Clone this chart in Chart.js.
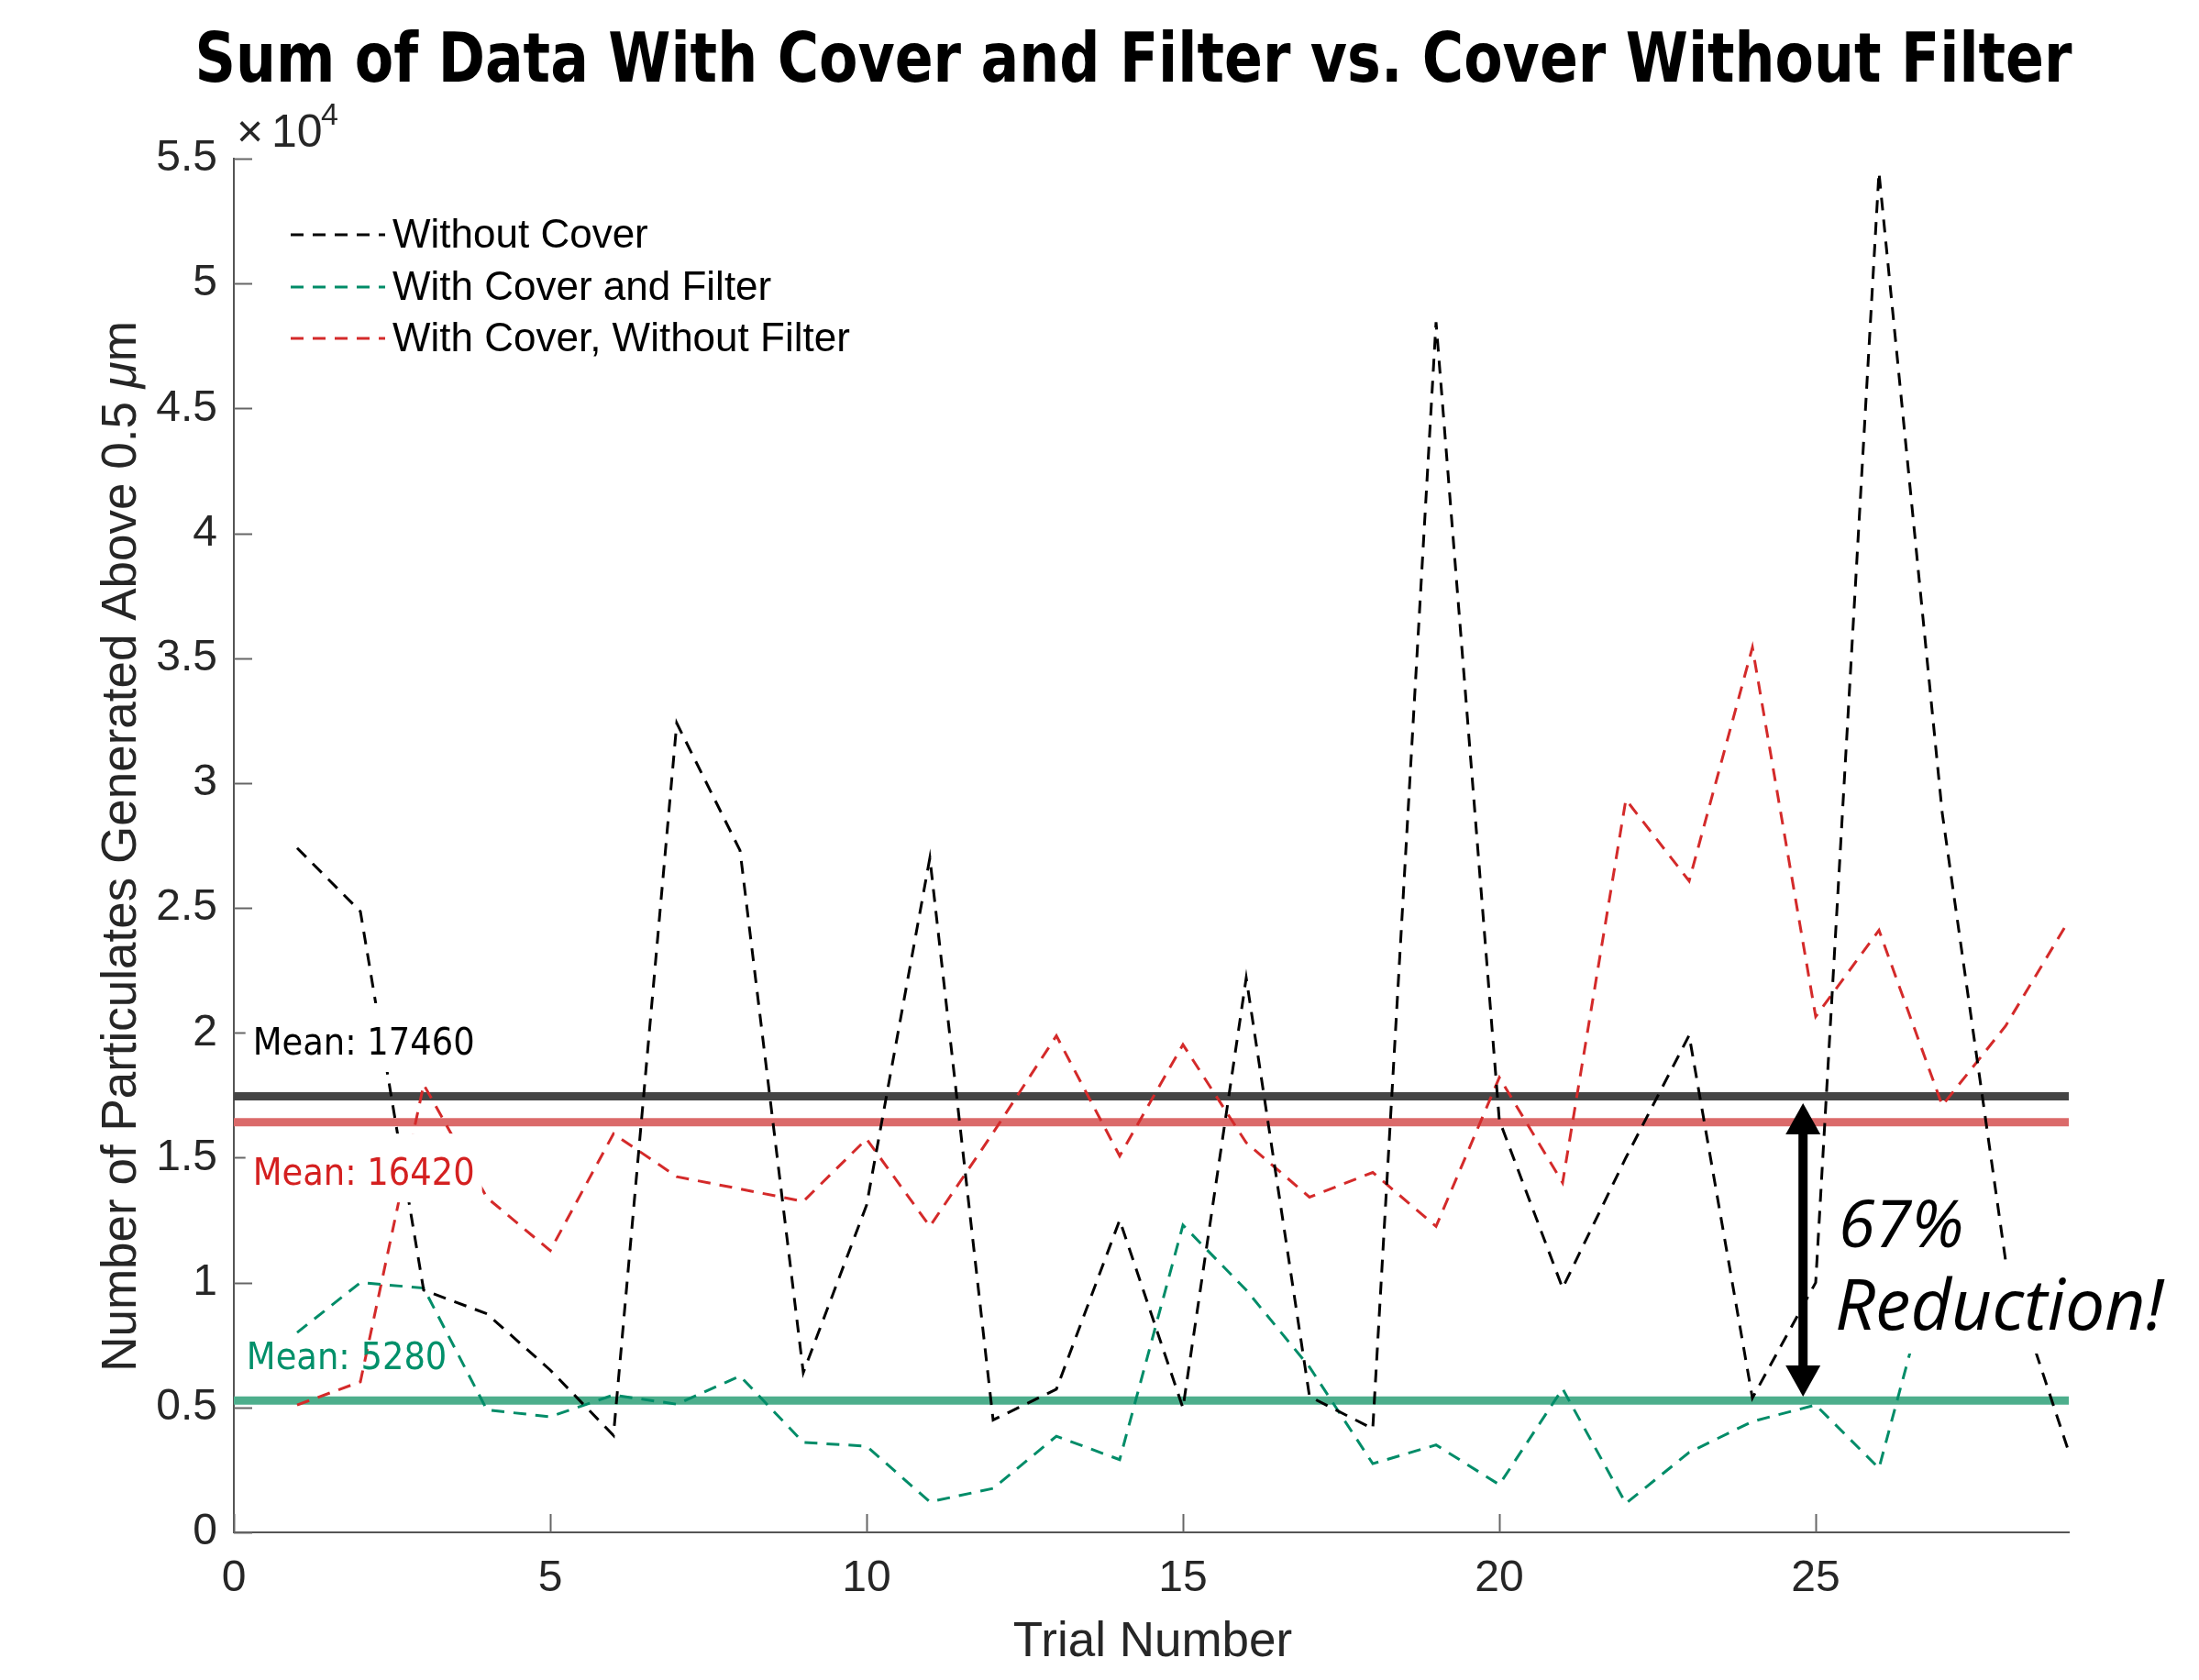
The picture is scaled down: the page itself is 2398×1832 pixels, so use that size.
<!DOCTYPE html>
<html>
<head>
<meta charset="utf-8">
<title>Sum of Data With Cover and Filter vs. Cover Without Filter</title>
<script src="https://cdn.jsdelivr.net/npm/chart.js@4.4.1/dist/chart.umd.min.js"></script>
<style>
    html, body { margin: 0; padding: 0; background: #fff; }
    #chart { display: block; }
</style>
</head>
<body>
<canvas id="chart" width="2398" height="1832"></canvas>
<script>
const trials = [1, 2, 3, 4, 5, 6, 7, 8, 9, 10, 11, 12, 13, 14, 15, 16, 17, 18, 19, 20, 21, 22, 23, 24, 25, 26, 27, 28, 29];

const withoutCover = [27400, 24860, 9700, 8750, 6500, 3880, 32400, 27300, 6400, 13100, 27000, 4500, 5730, 12500, 4980, 22200, 5440, 4150, 48450, 16500, 9780, 15000, 19900, 5380, 10000, 54450, 28800, 10900, 3220];
const coverAndFilter = [8000, 10000, 9780, 4900, 4630, 5500, 5130, 6260, 3600, 3450, 1220, 1760, 3850, 2910, 12300, 9700, 6620, 2750, 3500, 1910, 5750, 1160, 3200, 4440, 5100, 2570, 12000];
const coverNoFilter = [5100, 6030, 17930, 13400, 11280, 15960, 14240, 13750, 13250, 15750, 12250, 16000, 19880, 15070, 19530, 15600, 13420, 14410, 12250, 18210, 14000, 29340, 26080, 35430, 20650, 24110, 17090, 20270, 24490];

const seriesNames = ['Without Cover', 'With Cover and Filter', 'With Cover, Without Filter'];
const seriesColors = ['#000000', '#008c68', '#d42a2a'];

const means = [17460, 16420, 5280];
const meanColors = ['#454545', '#db6a6a', '#4dae8c'];
const meanTextColors = ['#000000', '#d42020', '#00906a'];
const meanLabelX = [0.3, 0.3, 0.2];
const meanLabelY = [19130, 13910, 6530];

const xTicks = [0, 5, 10, 15, 20, 25];
const yTicks = [0, 5000, 10000, 15000, 20000, 25000, 30000, 35000, 40000, 45000, 50000, 55000];

// arrow between red and green mean
const arrowX = 24.8;
const arrowTop = 17180;
const arrowBottom = 5430;

const AXIS_FONT = '"Liberation Sans", Arial, sans-serif';

function points(values) {
    return values.map((v, i) => ({ x: trials[i], y: v }));
}

function meanLine(value) {
    return [{ x: 0, y: value }, { x: 29, y: value }];
}

const datasets = [
    { label: seriesNames[0], data: points(withoutCover), borderColor: seriesColors[0] },
    { label: seriesNames[1], data: points(coverAndFilter), borderColor: seriesColors[1] },
    { label: seriesNames[2], data: points(coverNoFilter), borderColor: seriesColors[2] }
].map(d => Object.assign(d, {
    borderWidth: 3,
    borderDash: [14, 10],
    pointRadius: 0,
    tension: 0,
    fill: false,
    order: 0
}));

means.forEach((m, i) => {
    datasets.push({
        label: 'mean' + i,
        data: meanLine(m),
        borderColor: meanColors[i],
        borderWidth: 9,
        pointRadius: 0,
        fill: false,
        order: 10
    });
});

const decorations = {
    id: 'decorations',
    afterDatasetsDraw(chart) {
        const ctx = chart.ctx;
        const xs = chart.scales.x;
        const ys = chart.scales.y;
        const area = chart.chartArea;

        ctx.save();

        // tick marks pointing inward
        ctx.strokeStyle = '#666';
        ctx.lineWidth = 2;
        yTicks.forEach(v => {
            const py = Math.round(ys.getPixelForValue(v)) + 0.5;
            ctx.beginPath();
            ctx.moveTo(area.left, py);
            ctx.lineTo(area.left + 20, py);
            ctx.stroke();
        });
        xTicks.forEach(v => {
            const px = Math.round(xs.getPixelForValue(v)) + 0.5;
            ctx.beginPath();
            ctx.moveTo(px, area.bottom);
            ctx.lineTo(px, area.bottom - 20);
            ctx.stroke();
        });

        // mean labels
        ctx.font = '41px "DejaVu Sans Condensed", "DejaVu Sans", sans-serif';
        ctx.textBaseline = 'alphabetic';
        ctx.textAlign = 'left';
        means.forEach((m, i) => {
            const text = 'Mean: ' + m;
            const tx = xs.getPixelForValue(meanLabelX[i]);
            const ty = ys.getPixelForValue(meanLabelY[i]);
            if (i < 2) {
                const w = ctx.measureText(text).width;
                ctx.fillStyle = '#fff';
                ctx.fillRect(tx - 8, ty - 56, w + 16, 75);
            }
            ctx.fillStyle = meanTextColors[i];
            ctx.fillText(text, tx, ty);
        });

        // reduction text with white boxes
        ctx.fillStyle = '#fff';
        ctx.fillRect(1995, 1290, 140, 90);
        ctx.fillRect(1983, 1380, 415, 96);
        ctx.fillStyle = '#000';
        ctx.font = 'italic 72px "Open Sans", sans-serif';
        ctx.fillText('67%', 2005, 1360);
        ctx.font = 'italic 77px "Open Sans", sans-serif';
        ctx.fillText('Reduction!', 2001, 1450);

        // double arrow
        const ax = xs.getPixelForValue(arrowX);
        const yt = ys.getPixelForValue(arrowTop);
        const yb = ys.getPixelForValue(arrowBottom);
        const head = 34, half = 19;
        ctx.strokeStyle = '#000';
        ctx.lineWidth = 10;
        ctx.beginPath();
        ctx.moveTo(ax, yt + head - 2);
        ctx.lineTo(ax, yb - head + 2);
        ctx.stroke();
        ctx.fillStyle = '#000';
        ctx.beginPath();
        ctx.moveTo(ax, yt);
        ctx.lineTo(ax - half, yt + head);
        ctx.lineTo(ax + half, yt + head);
        ctx.closePath();
        ctx.fill();
        ctx.beginPath();
        ctx.moveTo(ax, yb);
        ctx.lineTo(ax - half, yb - head);
        ctx.lineTo(ax + half, yb - head);
        ctx.closePath();
        ctx.fill();

        // legend
        ctx.font = '44px ' + AXIS_FONT;
        ctx.textBaseline = 'middle';
        const rows = [256, 313, 369];
        seriesNames.forEach((name, i) => {
            ctx.strokeStyle = seriesColors[i];
            ctx.lineWidth = 3;
            ctx.setLineDash([14, 10]);
            ctx.beginPath();
            ctx.moveTo(317, rows[i]);
            ctx.lineTo(420, rows[i]);
            ctx.stroke();
            ctx.setLineDash([]);
            ctx.fillStyle = '#000';
            ctx.fillText(name, 428, rows[i] + 2);
        });

        // exponent label
        ctx.fillStyle = '#262626';
        ctx.textBaseline = 'alphabetic';
        ctx.font = '50px ' + AXIS_FONT;
        ctx.fillText('\u00d7', 258, 160);
        ctx.fillText('10', 296, 160);
        ctx.font = '34px ' + AXIS_FONT;
        ctx.fillText('4', 350, 136);

        // axis titles
        ctx.font = '53px ' + AXIS_FONT;
        ctx.textAlign = 'center';
        ctx.fillText('Trial Number', 1257, 1806);

        ctx.translate(148, 923);
        ctx.rotate(-Math.PI / 2);
        ctx.textAlign = 'left';
        const p1 = 'Number of Particulates Generated Above 0.5 ';
        const w1 = ctx.measureText(p1).width;
        ctx.font = 'italic 53px ' + AXIS_FONT;
        const wmu = ctx.measureText('\u03bc').width;
        ctx.font = '53px ' + AXIS_FONT;
        const w2 = ctx.measureText('m').width;
        let start = -(w1 + wmu + w2) / 2;
        ctx.fillText(p1, start, 0);
        ctx.font = 'italic 53px ' + AXIS_FONT;
        ctx.fillText('\u03bc', start + w1, 0);
        ctx.font = '53px ' + AXIS_FONT;
        ctx.fillText('m', start + w1 + wmu, 0);
        ctx.restore();

        // title, squeezed to the original width
        ctx.save();
        const title = 'Sum of Data With Cover and Filter vs. Cover Without Filter';
        ctx.font = 'bold 74px "DejaVu Sans Condensed", "DejaVu Sans", sans-serif';
        ctx.fillStyle = '#000';
        ctx.textAlign = 'center';
        ctx.textBaseline = 'alphabetic';
        const tw = ctx.measureText(title).width;
        ctx.translate(1236, 89);
        ctx.scale(2047 / tw, 1);
        ctx.fillText(title, 0, 0);
        ctx.restore();
    }
};

new Chart(document.getElementById('chart'), {
    type: 'line',
    data: { datasets: datasets },
    options: {
        responsive: false,
        animation: false,
        devicePixelRatio: 1,
        layout: { padding: { left: 0, right: 142, top: 173, bottom: 0 } },
        plugins: {
            legend: { display: false },
            title: { display: false },
            tooltip: { enabled: false }
        },
        scales: {
            x: {
                type: 'linear',
                min: 0,
                max: 29,
                afterFit(scale) { scale.height = 161; },
                ticks: {
                    stepSize: 5,
                    includeBounds: false,
                    autoSkip: false,
                    maxRotation: 0,
                    padding: 22,
                    color: '#262626',
                    font: { family: AXIS_FONT, size: 48 }
                },
                grid: { drawOnChartArea: false, drawTicks: false },
                border: { color: '#555', width: 2 }
            },
            y: {
                min: 0,
                max: 55000,
                afterFit(scale) { scale.width = 255; },
                ticks: {
                    stepSize: 5000,
                    includeBounds: false,
                    autoSkip: false,
                    padding: 18,
                    color: '#262626',
                    font: { family: AXIS_FONT, size: 48 },
                    callback: v => String(v / 10000)
                },
                grid: { drawOnChartArea: false, drawTicks: false },
                border: { color: '#555', width: 2 }
            }
        }
    },
    plugins: [decorations]
});
</script>
</body>
</html>
